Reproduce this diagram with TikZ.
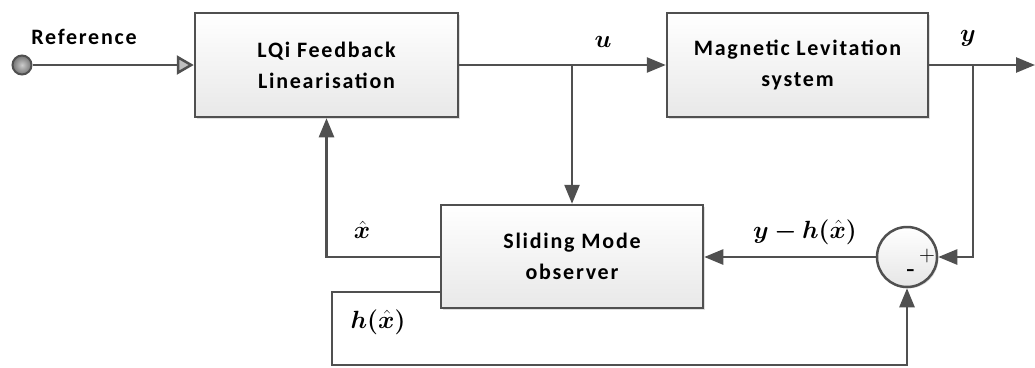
\documentclass[tikz,border=0pt]{standalone}
\usepackage{fontspec}
\usepackage{bm}
\setsansfont{Carlito}[LetterSpace=8]
\usetikzlibrary{arrows.meta,shadows}
\definecolor{ln}{HTML}{505050}
\tikzset{
  blk/.style={draw=ln, line width=2.5pt, top color=white, bottom color=black!9, drop shadow={shadow xshift=1.5pt, shadow yshift=-1.5pt, opacity=0.25}, font=\sffamily\bfseries\fontsize{22}{31}\selectfont, align=center, inner sep=0pt},
  conn/.style={draw=ln, line width=2.5pt, -{Triangle[length=19pt,width=15pt]}},
  lbl/.style={font=\fontsize{26}{30}\selectfont, inner sep=0pt},
}
\begin{document}
\begin{tikzpicture}[x=1pt,y=-1pt]
\useasboundingbox (0,0) rectangle (1035,367);
% blocks
\node[blk, minimum width=263pt, minimum height=104pt] (lqi) at (326.5,65) {LQi Feedback\\Linearisation};
\node[blk, minimum width=261pt, minimum height=104pt] (mag) at (797.5,65) {Magnetic Levitation\\system};
\node[blk, minimum width=262pt, minimum height=103pt] (smo) at (572,256.5) {Sliding Mode\\observer};
\node[circle, draw=ln, line width=2.5pt, top color=white, bottom color=black!10, minimum size=60pt, inner sep=0pt, drop shadow={shadow xshift=1.5pt, shadow yshift=-1.5pt, opacity=0.25}] (sum) at (907,257) {};
\node[circle, draw=ln, line width=2pt, inner color=black!20, outer color=black!55, minimum size=19pt, inner sep=0pt] (ref) at (22,65) {};
% coordinates
\coordinate (ju) at (572,65);
\coordinate (jy) at (973,65);
\coordinate (out) at (1035,65);
\coordinate (hx) at (332,292);
\coordinate (hb) at (332,365);
\coordinate (hs) at (441,292);
% connectors
\draw[draw=ln, line width=2.5pt, -{Triangle[open, fill=black!25, length=17pt,width=19pt]}] (ref) -- (lqi.west);
\draw[conn] (lqi.east) -- (mag.west);
\draw[conn] (ju) -- (smo.north);
\draw[conn] (mag.east) -- (out);
\draw[conn] (jy) |- (sum.east);
\draw[conn] (sum.west) -- (smo.east |- sum.west);
\draw[conn] (smo.west |- sum.west) -| (lqi.south);
\draw[conn] (hs) -- (hx) -- (hb) -| (sum.south);
% labels
\node[font=\sffamily\bfseries\fontsize{22}{26}\selectfont, inner sep=0pt] (tref) at (84,37) {Reference};
\node[lbl] (tu) at (603,42) {$\bm{u}$};
\node[lbl] (ty) at (968,38) {$\bm{y}$};
\node[lbl] (tx) at (362,230) {$\bm{\hat{x}}$};
\node[lbl] (th) at (378,322) {$\bm{h(\hat{x})}$};
\node[lbl] (tyh) at (805,232) {$\bm{y-h(\hat{x})}$};
\node[font=\fontsize{22}{24}\selectfont, inner sep=0pt] (tp) at (927,256) {+};
\node[font=\bfseries\fontsize{22}{24}\selectfont, inner sep=0pt] (tm) at (911,273) {-};
\end{tikzpicture}
\end{document}
